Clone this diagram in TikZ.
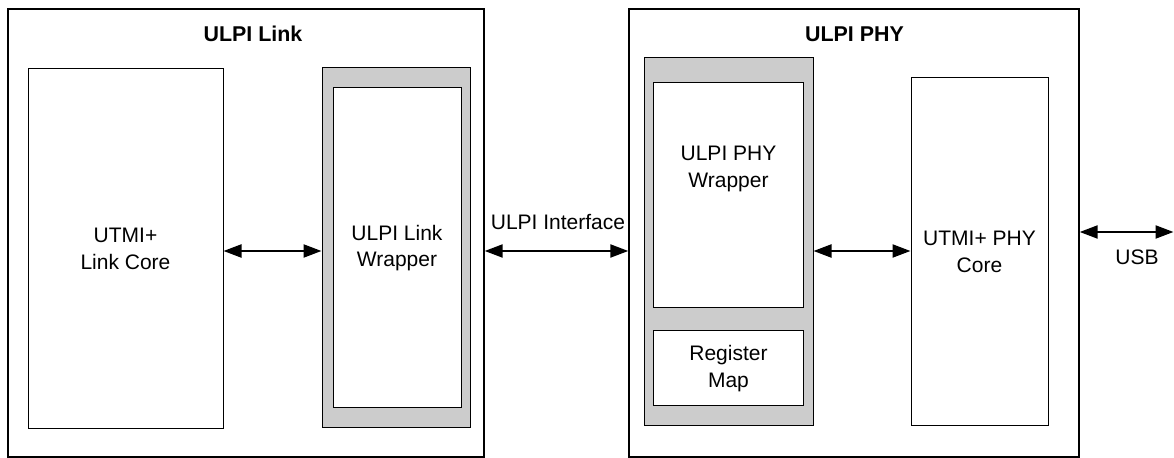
\documentclass[tikz,border=0pt]{standalone}
\usepackage{fontspec}
\setmainfont{Liberation Sans}
\usetikzlibrary{arrows.meta}
\tikzset{
  outerbox/.style={draw=black, line width=0.7pt, fill=white, inner sep=0pt},
  innerbox/.style={draw=black, line width=0.5pt, fill=white, inner sep=0pt, align=center,
    font=\fontsize{10.5pt}{13.3pt}\selectfont},
  graybox/.style={draw=black, line width=0.5pt, fill=gray80, inner sep=0pt},
  txt/.style={inner sep=0pt, align=center, font=\fontsize{10.5pt}{13.3pt}\selectfont},
  ttl/.style={inner sep=0pt, font=\fontsize{10.7pt}{12pt}\selectfont\bfseries},
  dar/.style={line width=1.1pt, {Triangle[length=9pt,width=6.5pt]}-{Triangle[length=9pt,width=6.5pt]}}
}
\definecolor{gray80}{RGB}{204,204,204}
\begin{document}
\begin{tikzpicture}[x=0.5pt,y=-0.5pt]
\useasboundingbox[fill=white] (0,0) rectangle (1174,458);
% outer boxes
\node[outerbox, minimum width=238pt, minimum height=224pt] (linkouter) at (246,233) {};
\node[outerbox, minimum width=225pt, minimum height=224pt] (phyouter) at (854,233) {};
\node[ttl] (linktitle) at (253,34) {ULPI Link};
\node[ttl] (phytitle) at (854.5,34) {ULPI PHY};
% link side
\node[innerbox, minimum width=97.5pt, minimum height=180pt] (linkcore) at (125.5,249) {UTMI+\\Link Core};
\node[graybox, minimum width=74pt, minimum height=180pt] (linkgray) at (396,248) {};
\node[innerbox, minimum width=64pt, minimum height=160pt] (linkwrap) at (397,248) {ULPI Link\\Wrapper};
% phy side
\node[graybox, minimum width=84.5pt, minimum height=184pt] (phygray) at (728.5,242) {};
\node[innerbox, minimum width=75pt, minimum height=112.5pt] (phywrap) at (728.5,195.5) {};
\node[txt] (phywraptxt) at (728.5,169) {ULPI PHY\\Wrapper};
\node[innerbox, minimum width=75pt, minimum height=37.5pt] (regmap) at (728.5,368.5) {Register\\Map};
\node[innerbox, minimum width=68.5pt, minimum height=174pt] (phycore) at (979.5,252) {UTMI+ PHY\\Core};
% arrows
\coordinate (ay) at (0,251);
\coordinate (usbend) at (1173.5,232);
\draw[dar] (linkcore.east |- ay) -- (linkgray.west |- ay);
\draw[dar] (linkouter.east |- ay) -- (phyouter.west |- ay);
\draw[dar] (phygray.east |- ay) -- (phycore.west |- ay);
\draw[dar] (phyouter.east |- usbend) -- (usbend);
\node[txt, anchor=base] (ifacelbl) at (558,230) {ULPI Interface};
\node[txt, anchor=base] (usblbl) at (1137,265) {USB};
\end{tikzpicture}
\end{document}
